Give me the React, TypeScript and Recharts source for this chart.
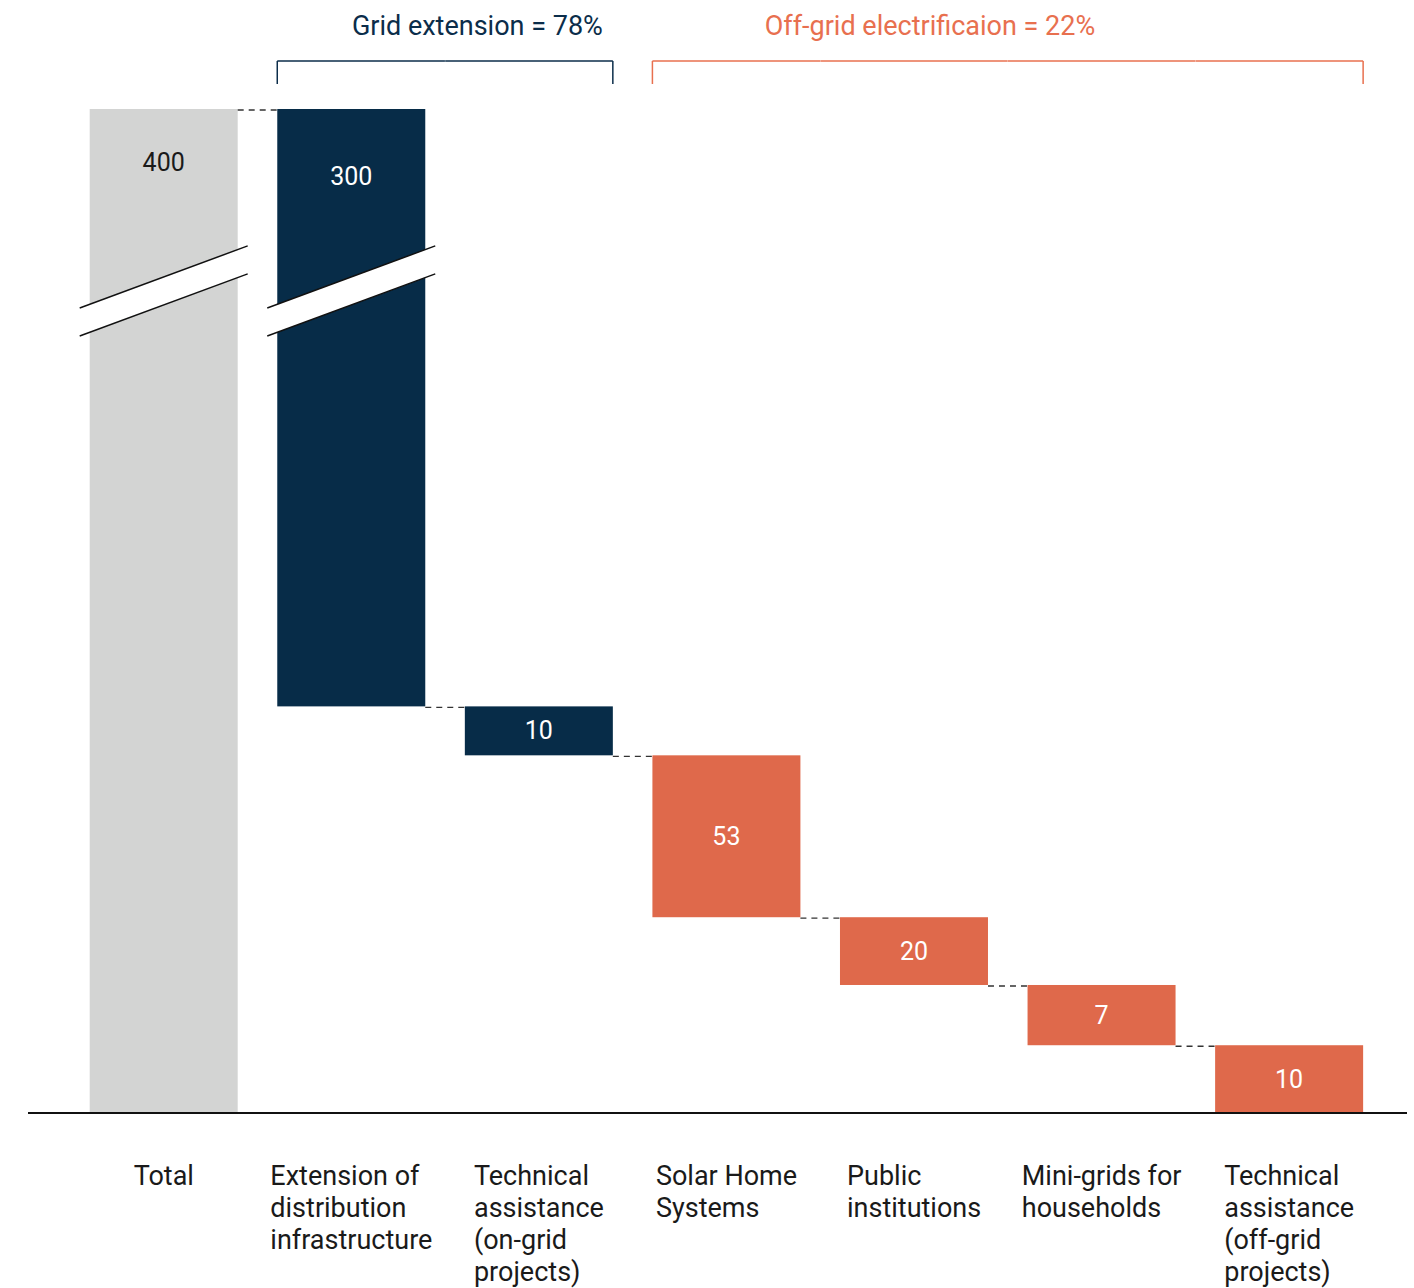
import React from 'react';
import { BarChart, Bar, XAxis, YAxis, Cell, LabelList } from 'recharts';

const categories = [
  'Total',
  'Extension of\ndistribution\ninfrastructure',
  'Technical\nassistance\n(on-grid\nprojects)',
  'Solar Home\nSystems',
  'Public\ninstitutions',
  'Mini-grids for\nhouseholds',
  'Technical\nassistance\n(off-grid\nprojects)',
];
const values = [400, 300, 10, 53, 20, 7, 10];
// drawn extent of each bar on the broken (not to scale) axis
const barLow = [0, 162, 142.5, 78, 51, 27, 0];
const barHigh = [400, 400, 162, 142.5, 78, 51, 27];
const barColors = ['#d3d4d3', '#072c48', '#072c48', '#df694b', '#df694b', '#df694b', '#df694b'];
const groups = [
  { label: 'Grid extension = 78%', color: '#0b2d4a', first: 1, last: 2 },
  { label: 'Off-grid electrificaion = 22%', color: '#e8704f', first: 3, last: 6 },
];
const brokenBars = [0, 1];
const BREAK_AT = 327.5;

const FONT = 'Roboto, "Open Sans", sans-serif';
const GAP = 0.105;

// where each group title sits: which bar carries it and how it is anchored
const titlePlacement: Record<number, { at: number; anchor: 'start' | 'middle' | 'end'; dx: (w: number) => number }> = {
  0: { at: 2, anchor: 'end', dx: (w) => w - 10 },
  1: { at: 4, anchor: 'middle', dx: (w) => w / 2 + 16 },
};

const data = categories.map((name, i) => ({
  name,
  range: [barLow[i], barHigh[i]],
  value: values[i],
}));

let ctx: CanvasRenderingContext2D | null = null;
function measure(text: string, font: string) {
  if (!ctx) ctx = document.createElement('canvas').getContext('2d');
  if (!ctx) return text.length * 13;
  ctx.font = font;
  return ctx.measureText(text).width;
}

function WaterfallBar(props: any) {
  const { x, y, width, height, index, fill } = props;
  const lo = barLow[index];
  const hi = barHigh[index];
  const k = height / (hi - lo);
  const yPix = (v: number) => y + (hi - v) * k;
  const halfGap = (width / (1 - 2 * GAP)) * GAP;
  const parts: React.ReactNode[] = [];

  parts.push(<rect key="r" x={x} y={y} width={width} height={height} fill={fill} />);

  // axis break
  if (brokenBars.includes(index)) {
    const cx = x + width / 2;
    const yc = yPix(BREAK_AT);
    const slope = -0.37;
    const half = 14;
    const x1 = x - 10;
    const x2 = x + width + 10;
    const up = (px: number) => yc - half + slope * (px - cx);
    const dn = (px: number) => yc + half + slope * (px - cx);
    parts.push(
      <polygon
        key="bw"
        points={`${x1},${up(x1)} ${x2},${up(x2)} ${x2},${dn(x2)} ${x1},${dn(x1)}`}
        fill="#fff"
      />,
      <line key="b1" x1={x1} y1={up(x1)} x2={x2} y2={up(x2)} stroke="#111" strokeWidth={1.5} />,
      <line key="b2" x1={x1} y1={dn(x1)} x2={x2} y2={dn(x2)} stroke="#111" strokeWidth={1.5} />
    );
  }

  // connector to next bar
  if (index < categories.length - 1) {
    const cy = yPix(barHigh[index + 1]) + 1;
    parts.push(
      <line
        key="c"
        x1={x + width}
        y1={cy}
        x2={x + width + 2 * halfGap}
        y2={cy}
        stroke="#333"
        strokeWidth={1.3}
        strokeDasharray="6 5"
      />
    );
  }

  // group brackets and titles
  const top = yPix(400);
  groups.forEach((g, gi) => {
    if (index < g.first || index > g.last) return;
    const bTop = top - 48;
    const bBot = top - 25;
    const left = index === g.first ? x : x - halfGap;
    const right = index === g.last ? x + width : x + width + halfGap;
    parts.push(<line key={`g${gi}h`} x1={left} y1={bTop} x2={right} y2={bTop} stroke={g.color} strokeWidth={1.5} />);
    if (index === g.first)
      parts.push(<line key={`g${gi}l`} x1={x} y1={bTop} x2={x} y2={bBot} stroke={g.color} strokeWidth={1.5} />);
    if (index === g.last)
      parts.push(
        <line key={`g${gi}r`} x1={x + width} y1={bTop} x2={x + width} y2={bBot} stroke={g.color} strokeWidth={1.5} />
      );
    const tp = titlePlacement[gi];
    if (tp.at === index)
      parts.push(
        <text
          key={`g${gi}t`}
          x={x + tp.dx(width)}
          y={top - 74}
          textAnchor={tp.anchor}
          fontFamily={FONT}
          fontSize={27}
          fill={g.color}
        >
          {g.label}
        </text>
      );
  });

  return <g>{parts}</g>;
}

function ValueLabel(props: any) {
  const { x, y, width, height, value, index } = props;
  let cy = y + height / 2;
  if (index === 0) cy = y + 53;
  if (index === 1) cy = y + 67;
  return (
    <text
      x={x + width / 2}
      y={cy}
      textAnchor="middle"
      dominantBaseline="central"
      fontFamily={FONT}
      fontSize={25}
      fill={index === 0 ? '#1a1a1a' : '#ffffff'}
    >
      {value}
    </text>
  );
}

function CategoryTick(props: any) {
  const { x, y, payload } = props;
  const lines = String(payload.value).split('\n');
  const w = Math.max(...lines.map((l) => measure(l, `27px ${FONT}`)));
  const left = x - w / 2;
  return (
    <text x={left} y={y + 72} fontFamily={FONT} fontSize={27} fill="#1a1a1a" textAnchor="start">
      {lines.map((l, i) => (
        <tspan key={i} x={left} dy={i === 0 ? 0 : 32}>
          {l}
        </tspan>
      ))}
    </text>
  );
}

export default function App() {
  return (
    <div style={{ position: 'absolute', left: 0, top: 0, background: '#fff' }}>
      <BarChart
        width={1414}
        height={1288}
        data={data}
        margin={{ top: 109, right: 7, bottom: 15, left: 28 }}
        barCategoryGap={`${GAP * 100}%`}
      >
        <XAxis
          dataKey="name"
          interval={0}
          height={160}
          padding={{ left: 42, right: 24 }}
          tickLine={false}
          tickSize={0}
          tickMargin={0}
          axisLine={{ stroke: '#111', strokeWidth: 2 }}
          tick={<CategoryTick />}
        />
        <YAxis hide domain={[0, 400]} />
        <Bar dataKey="range" shape={<WaterfallBar />} isAnimationActive={false}>
          {data.map((_, i) => (
            <Cell key={i} fill={barColors[i]} />
          ))}
          <LabelList dataKey="value" content={<ValueLabel />} />
        </Bar>
      </BarChart>
    </div>
  );
}
